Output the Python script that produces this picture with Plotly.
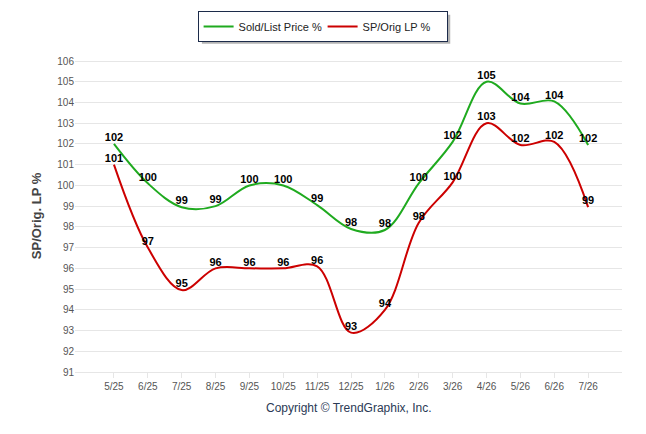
import plotly.graph_objects as go

# Monthly ratios
months = ["5/25", "6/25", "7/25", "8/25", "9/25", "10/25", "11/25", "12/25",
          "1/26", "2/26", "3/26", "4/26", "5/26", "6/26", "7/26"]
sold_list = [102, 100.1, 98.95, 99, 100, 100, 99.05, 97.9, 97.85, 100.1, 102.1, 105, 103.95, 104.05, 101.95]
sp_orig = [101, 97, 94.95, 96, 96, 96, 96.1, 92.9, 94, 98.2, 100.15, 103, 101.95, 102.1, 98.95]
sold_list_labels = ["102", "100", "99", "99", "100", "100", "99", "98", "98", "100", "102", "105", "104", "104", "102"]
sp_orig_labels = ["101", "97", "95", "96", "96", "96", "96", "93", "94", "98", "100", "103", "102", "102", "99"]
y_ticks = list(range(91, 107))

font = "Arial, Liberation Sans, sans-serif"
x = list(range(len(months)))

fig = go.Figure()
fig.add_trace(go.Scatter(
    x=x, y=sold_list, name="Sold/List Price %", mode="lines+text",
    line=dict(color="#1faa1f", width=2, shape="spline", smoothing=1),
    text=sold_list_labels, textposition="top center",
    textfont=dict(family=font, size=11, color="#000000", weight="bold"),
    cliponaxis=False))
fig.add_trace(go.Scatter(
    x=x, y=sp_orig, name="SP/Orig LP %", mode="lines+text",
    line=dict(color="#cc0000", width=2, shape="spline", smoothing=1),
    text=sp_orig_labels, textposition="top center",
    textfont=dict(family=font, size=11, color="#000000", weight="bold"),
    cliponaxis=False))

# legend drop shadow
fig.add_shape(type="rect", xref="paper", yref="paper",
              x0=0.232, x1=0.686, y0=1.052, y1=1.145,
              line=dict(width=0), fillcolor="rgba(0,0,0,0.3)", layer="below")

# the page body adds an 8px offset, so margins are shifted to compensate
fig.update_layout(
    width=646, height=434,
    margin=dict(l=67, r=32, t=52, b=70),
    paper_bgcolor="white", plot_bgcolor="white",
    font=dict(family=font, color="#333333"),
    showlegend=True,
    legend=dict(orientation="h", xref="container", yref="container",
                x=0.487, xanchor="center", y=0.993, yanchor="top",
                bgcolor="white", bordercolor="#1c2b4a", borderwidth=1,
                font=dict(family=font, size=11, color="#222222"),
                entrywidth=79, entrywidthmode="pixels", tracegroupgap=0),
    xaxis=dict(tickvals=x, ticktext=months, range=[-1.15, 15],
               showgrid=False, zeroline=False,
               showline=True, linecolor="#e6e6e6", linewidth=1,
               ticks="outside", ticklen=5, tickcolor="#e6e6e6",
               tickfont=dict(family=font, size=10, color="#555555")),
    yaxis=dict(range=[91, 106.05], tickvals=y_ticks, showgrid=True, gridcolor="#e6e6e6",
               zeroline=False, showline=False,
               tickfont=dict(family=font, size=10, color="#555555"),
               title=dict(text="SP/Orig. LP %", standoff=12,
                          font=dict(family=font, size=13, color="#444444", weight="bold"))),
    annotations=[dict(text="Copyright © TrendGraphix, Inc.", xref="paper", yref="paper",
                      x=0.5, y=-0.115, xanchor="center", yanchor="middle", showarrow=False,
                      font=dict(family=font, size=12, color="#2b3a55"))],
)

fig.write_html("out.html")
